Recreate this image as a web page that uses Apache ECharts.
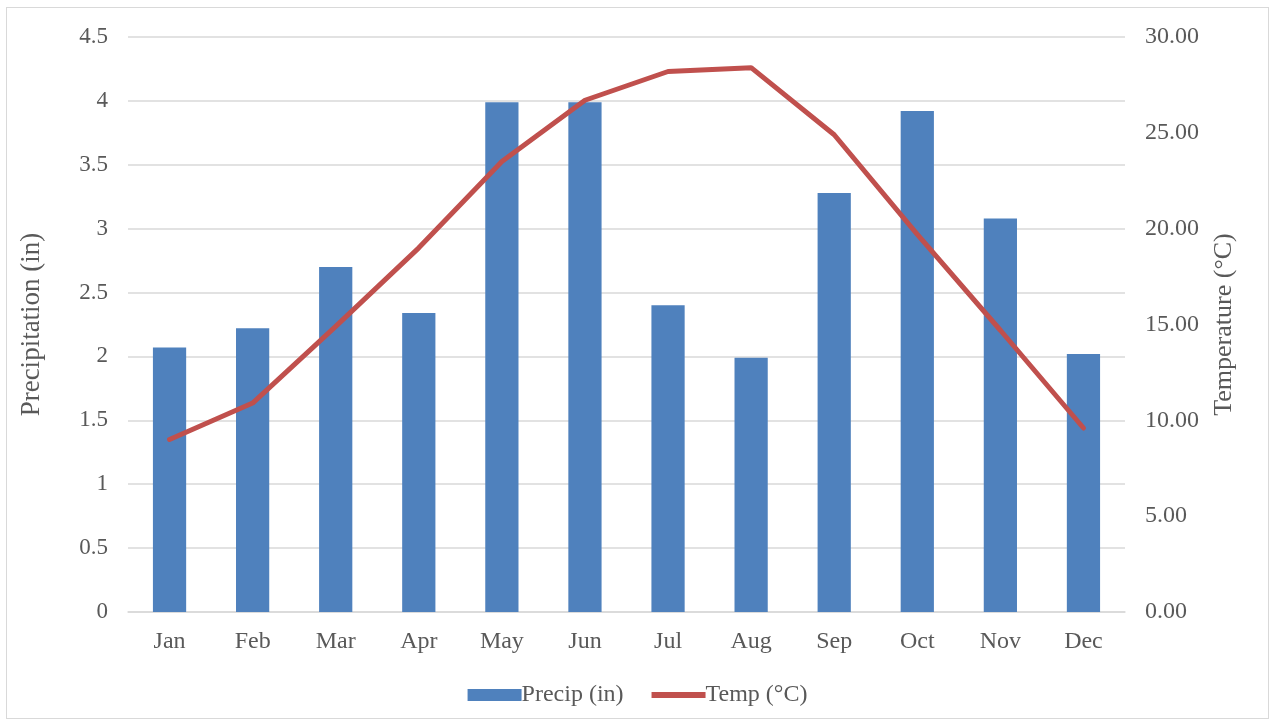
<!DOCTYPE html>
<html>
<head>
<meta charset="utf-8">
<script src="https://cdn.jsdelivr.net/npm/echarts@6/dist/echarts.min.js"></script>
<style>
html,body{margin:0;padding:0;background:#fff;}
#frame{position:absolute;left:6px;top:7px;width:1263px;height:712px;border:1px solid #d9d9d9;box-sizing:border-box;}
#chart{position:absolute;left:0;top:0;width:1275px;height:726px;}
</style>
</head>
<body>
<div id="frame"></div>
<div id="chart"></div>
<script>
const categories = ['Jan','Feb','Mar','Apr','May','Jun','Jul','Aug','Sep','Oct','Nov','Dec'];
const precip = [2.07, 2.22, 2.70, 2.34, 3.99, 3.99, 2.40, 1.99, 3.28, 3.92, 3.08, 2.02];
const temp = [9.0, 10.9, 14.9, 19.0, 23.5, 26.7, 28.2, 28.4, 24.9, 19.7, 14.7, 9.6];

const font = 'Liberation Serif';
const grey = '#595959';
const chart = echarts.init(document.getElementById('chart'));
chart.setOption({
  animation: false,
  textStyle: {fontFamily: font},
  grid: {left: 128, right: 150, top: 37, bottom: 114, containLabel: false},
  legend: {
    top: 678, left: 'center', itemGap: 28,
    itemWidth: 54, itemHeight: 12,
    textStyle: {fontFamily: font, fontSize: 24, color: grey, padding: [0,0,0,-5]},
    data: [
      {name: 'Precip (in)', icon: 'rect'},
      {name: 'Temp (°C)', icon: 'path://M0,0 L54,0 L54,6 L0,6 Z', itemStyle: {color: '#c0504d'}}
    ]
  },
  xAxis: {
    type: 'category', data: categories,
    axisLine: {show: true, lineStyle: {color: '#d9d9d9', width: 1.5}},
    axisTick: {show: false},
    axisLabel: {fontFamily: font, fontSize: 24, color: grey, margin: 18}
  },
  yAxis: [
    {
      type: 'value', min: 0, max: 4.5, interval: 0.5,
      name: 'Precipitation (in)', nameLocation: 'middle', nameGap: 83,
      nameTextStyle: {fontFamily: font, fontSize: 27, color: grey},
      axisLine: {show: false}, axisTick: {show: false},
      axisLabel: {fontFamily: font, fontSize: 23, color: grey, margin: 20},
      splitLine: {lineStyle: {color: '#d9d9d9', width: 1.5}}
    },
    {
      type: 'value', min: 0, max: 30, interval: 5, position: 'right',
      name: 'Temperature (°C)', nameLocation: 'middle', nameGap: 86, nameRotate: 90,
      nameTextStyle: {fontFamily: font, fontSize: 26, color: grey},
      axisLine: {show: false}, axisTick: {show: false},
      axisLabel: {fontFamily: font, fontSize: 24, color: grey, margin: 20,
        formatter: v => v.toFixed(2)},
      splitLine: {show: false}
    }
  ],
  series: [
    {
      name: 'Precip (in)', type: 'bar', data: precip, barWidth: '40%',
      itemStyle: {color: '#4f81bd'}
    },
    {
      name: 'Temp (°C)', type: 'line', yAxisIndex: 1, data: temp,
      symbol: 'none', lineStyle: {color: '#c0504d', width: 5, cap: 'round'},
      itemStyle: {color: '#c0504d'}
    }
  ]
});
</script>
</body>
</html>
